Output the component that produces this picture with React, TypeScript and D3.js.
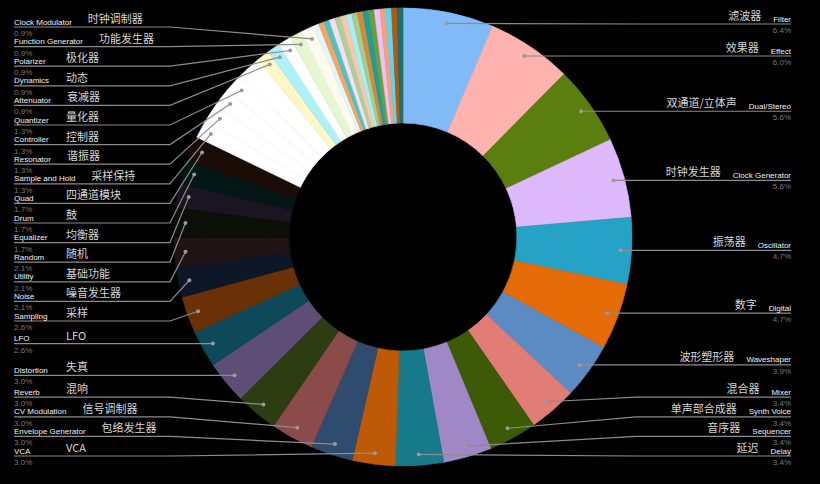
import React from 'react';
import * as d3 from 'd3';

// ---- data (clockwise from 12 o'clock) ----
const namesEn = [
  'Filter', 'Effect', 'Dual/Stereo', 'Clock Generator', 'Oscillator', 'Digital', 'Waveshaper',
  'Mixer', 'Synth Voice', 'Sequencer', 'Delay', 'VCA', 'Envelope Generator', 'CV Modulation',
  'Reverb', 'Distortion', 'LFO', 'Sampling', 'Noise', 'Utility', 'Random', 'Equalizer', 'Drum',
  'Quad', 'Sample and Hold', 'Resonator', 'Controller', 'Quantizer', '', 'Attenuator', 'Dynamics',
  'Polarizer', 'Function Generator', 'Clock Modulator',
  '', '', '', '', '', '', '', '', '', '', '', '', '', '', '', '',
];
const namesCn = [
  '滤波器', '效果器', '双通道/立体声', '时钟发生器', '振荡器', '数字', '波形塑形器',
  '混合器', '单声部合成器', '音序器', '延迟', 'VCA', '包络发生器', '信号调制器',
  '混响', '失真', 'LFO', '采样', '噪音发生器', '基础功能', '随机', '均衡器', '鼓',
  '四通道模块', '采样保持', '谐振器', '控制器', '量化器', '', '衰减器', '动态',
  '极化器', '功能发生器', '时钟调制器',
  '', '', '', '', '', '', '', '', '', '', '', '', '', '', '', '',
];
const values = [
  6.4, 6.0, 5.6, 5.6, 4.7, 4.7, 3.9,
  3.4, 3.4, 3.4, 3.4, 3.0, 3.0, 3.0,
  3.0, 3.0, 2.6, 2.6, 2.1, 2.1, 2.1, 1.7, 1.7,
  1.7, 1.3, 1.3, 1.3, 1.3, 1.7, 0.9, 0.9,
  0.9, 0.9, 0.9,
  0.4, 0.4, 0.4, 0.4, 0.4, 0.4, 0.4, 0.4, 0.4, 0.4, 0.4, 0.4, 0.4, 0.4, 0.4, 0.4,
];
const colors = [
  '#80bbf7', '#ffb2ae', '#5a7f0e', '#ddb8fa', '#25a2c6', '#e46b06', '#5b8bc2',
  '#e27c77', '#3d5a06', '#9f88c5', '#167a8b', '#be5906', '#2f4c6e', '#8b4b4a',
  '#2c3e11', '#5d4d77', '#0d4959', '#6a3106', '#0d1727', '#1f1313', '#0b0f06', '#1b1522', '#031717',
  '#1b0d05', '#ffffff', '#ffffff', '#ffffff', '#ffffff', '#ffffff', '#fff7c4', '#aef1f7',
  '#ffffff', '#e6f7cf', '#fffaee',
  '#e0f7fb', '#f3a766', '#4fc3c3', '#f3dff7', '#aecf96', '#f7c7ae', '#a6eff3', '#a6cb8e',
  '#cf8a3a', '#1a9e9e', '#6d9f3f', '#efc0f7', '#f4a07e', '#5bd6f0', '#b3590f', '#1f6f6f',
];

const W = 820, H = 484;
const CX = 403, CY = 237, R_OUT = 229, R_IN = 114, R_DOT = 218;
const GAP = 19.6;
const EN_FONT = '"Liberation Sans", Arial, sans-serif';
const CN_FONT = '"Noto Sans CJK SC", sans-serif';

type Lab = { i: number; ty: number; y: number; dx: number; dy: number; side: 'l' | 'r'; w: number };

function layout(items: Lab[], minY: number, maxY: number) {
  items.sort((a, b) => a.ty - b.ty);
  const place = (c: { items: Lab[]; top: number }) => {
    const n = c.items.length;
    const mean = d3.mean(c.items, (d) => d.ty) as number;
    let top = mean - ((n - 1) * GAP) / 2;
    top = Math.max(minY, Math.min(maxY - (n - 1) * GAP, top));
    c.top = top;
  };
  const clusters = items.map((it) => ({ items: [it], top: it.ty }));
  clusters.forEach(place);
  let changed = true;
  while (changed) {
    changed = false;
    for (let k = 0; k < clusters.length - 1; k++) {
      const a = clusters[k], b = clusters[k + 1];
      if (a.top + a.items.length * GAP > b.top + 1e-6) {
        const m = { items: a.items.concat(b.items), top: 0 };
        place(m);
        clusters.splice(k, 2, m);
        changed = true;
        break;
      }
    }
  }
  clusters.forEach((c) => c.items.forEach((it, k) => (it.y = c.top + k * GAP)));
}

export default function App() {
  const pie = d3.pie<number>().value((d) => d).sort(null);
  const arcs = pie(values);
  const arcGen = d3.arc<d3.PieArcDatum<number>>().innerRadius(R_IN).outerRadius(R_OUT);

  const ctx = document.createElement('canvas').getContext('2d') as CanvasRenderingContext2D;
  ctx.font = `8px ${EN_FONT}`;

  const labels: Lab[] = [];
  arcs.forEach((a, i) => {
    if (!namesEn[i]) return;
    const mid = (a.startAngle + a.endAngle) / 2;
    const dx = CX + R_DOT * Math.sin(mid);
    const dy = CY - R_DOT * Math.cos(mid);
    labels.push({ i, ty: dy, y: dy, dx, dy, side: mid < Math.PI ? 'r' : 'l', w: ctx.measureText(namesEn[i]).width });
  });
  const right = labels.filter((l) => l.side === 'r');
  const left = labels.filter((l) => l.side === 'l');
  layout(right, 24, 456);
  layout(left, 27, 456);

  const fmt = d3.format('.1f');

  return (
    <div style={{ position: 'fixed', left: 0, top: 0, width: W, height: H, background: '#000' }}>
      <svg width={W} height={H} style={{ display: 'block' }}>
        <rect width={W} height={H} fill="#000" />
        <g transform={`translate(${CX},${CY})`}>
          {arcs.map((a, i) => (
            <path key={i} d={arcGen(a) as string} fill={colors[i]} stroke={colors[i]} strokeWidth={0.7} strokeLinejoin="round" />
          ))}
        </g>
        {labels.map((l) => {
          const isR = l.side === 'r';
          const bendX = isR ? CX + R_OUT + 4 : CX - R_OUT - 4;
          const endX = isR ? 791 : 14;
          const cnX = isR ? endX - l.w - 12 : Math.max(66, endX + l.w + 16);
          return (
            <g key={l.i}>
              <polyline
                points={`${l.dx},${l.dy} ${bendX},${l.y} ${endX},${l.y}`}
                fill="none"
                stroke="#8c8c8c"
                strokeWidth={1.2}
              />
              <circle cx={l.dx} cy={l.dy} r={2} fill="#9a9a9a" />
              <text x={endX} y={l.y - 2.5} textAnchor={isR ? 'end' : 'start'} fontFamily={EN_FONT} fontSize={8} fill="#f2f2f2">
                {namesEn[l.i]}
              </text>
              <text x={endX} y={l.y + 9} textAnchor={isR ? 'end' : 'start'} fontFamily={EN_FONT} fontSize={8} fill="#7a7a7a">
                {fmt(values[l.i])}%
              </text>
              <text x={cnX} y={l.y - 4} textAnchor={isR ? 'end' : 'start'} fontFamily={CN_FONT} fontSize={11} fill="#d6d6d6">
                {namesCn[l.i]}
              </text>
            </g>
          );
        })}
      </svg>
    </div>
  );
}
